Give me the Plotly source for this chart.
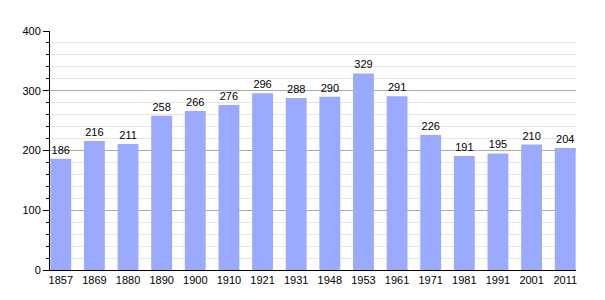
import plotly.graph_objects as go

years = ["1857", "1869", "1880", "1890", "1900", "1910", "1921", "1931",
         "1948", "1953", "1961", "1971", "1981", "1991", "2001", "2011"]
population = [186, 216, 211, 258, 266, 276, 296, 288, 290, 329, 291, 226, 191, 195, 210, 204]

fig = go.Figure()
fig.add_trace(go.Bar(
    x=list(range(len(years))), y=population,
    text=[str(v) for v in population], textposition="outside",
    textfont=dict(family="Liberation Sans, Arial, sans-serif", size=11, color="black"),
    marker=dict(color="#99aaff", line=dict(width=0)),
    cliponaxis=False,
))
fig.update_layout(
    width=605, height=300,
    margin=dict(l=50, r=29, t=31, b=30),
    paper_bgcolor="white", plot_bgcolor="white",
    bargap=0.38, showlegend=False,
    font=dict(family="Liberation Sans, Arial, sans-serif", size=11, color="black"),
)
fig.update_xaxes(
    range=[-0.32, 15.32], tickmode="array",
    tickvals=list(range(len(years))), ticktext=years,
    showgrid=False, showline=True, linecolor="black", linewidth=1,
    ticks="", zeroline=False, fixedrange=True,
)
fig.update_yaxes(
    range=[0, 400], tickvals=[0, 100, 200, 300, 400],
    showgrid=True, gridcolor="#aaaaaa", gridwidth=1,
    showline=True, linecolor="black", linewidth=1,
    ticks="outside", ticklen=6, tickcolor="black",
    minor=dict(dtick=20, showgrid=True, gridcolor="#e6e6e6", ticks="outside", ticklen=3, tickcolor="black"),
    zeroline=False, fixedrange=True,
)
fig.write_html("out.html")
